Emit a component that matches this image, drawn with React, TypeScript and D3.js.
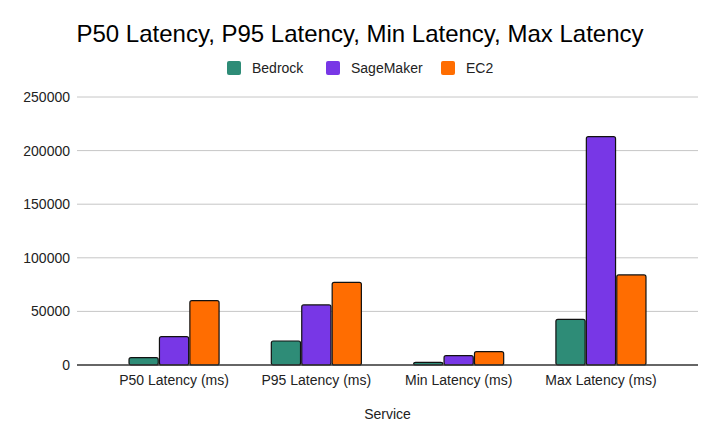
import React from "react";
import * as d3 from "d3";

const categories = ["P50 Latency (ms)", "P95 Latency (ms)", "Min Latency (ms)", "Max Latency (ms)"];
const seriesNames = ["Bedrock", "SageMaker", "EC2"];
const seriesColors = ["#2e8c77", "#7837e6", "#ff6d01"];
const bedrock = [6800, 22400, 2500, 42600];
const sagemaker = [26400, 56000, 8700, 213000];
const ec2 = [60000, 77100, 12400, 84000];
const yTicks = [0, 50000, 100000, 150000, 200000, 250000];

const seriesValues = [bedrock, sagemaker, ec2];

const width = 720;
const height = 445;
const margin = { top: 97, right: 22, bottom: 80, left: 77 };
const font = "'Liberation Sans', Arial, sans-serif";

export default function App() {
  const innerWidth = width - margin.left - margin.right;
  const innerHeight = height - margin.top - margin.bottom;

  const x0 = d3.scaleBand<string>()
    .domain(categories)
    .range([0, innerWidth])
    .paddingInner(0.35)
    .paddingOuter(0.357);

  const x1 = d3.scaleBand<string>()
    .domain(seriesNames)
    .range([0, x0.bandwidth()])
    .padding(0.04);

  const y = d3.scaleLinear()
    .domain([0, 250000])
    .range([innerHeight, 0]);

  // legend layout
  const legendX = [227, 326, 441];

  return (
    <svg
      width={width}
      height={height}
      style={{ position: "absolute", left: 0, top: 0, background: "#fff", fontFamily: font }}
    >
      <text x={360} y={42} textAnchor="middle" fontSize={24} fill="#000">
        P50 Latency, P95 Latency, Min Latency, Max Latency
      </text>

      {seriesNames.map((name, i) => (
        <g key={name} transform={`translate(${legendX[i]},61)`}>
          <rect width={14} height={14} rx={2} fill={seriesColors[i]} />
          <text x={25} y={12} fontSize={14} fill="#222">{name}</text>
        </g>
      ))}

      <g transform={`translate(${margin.left},${margin.top})`}>
        {yTicks.map((t) => (
          <g key={t}>
            {t !== 0 && (
              <line x1={0} x2={innerWidth} y1={y(t)} y2={y(t)} stroke="#c6c6c6" strokeWidth={1} />
            )}
            <text x={-7} y={y(t) + 5} textAnchor="end" fontSize={14} fill="#222">{t}</text>
          </g>
        ))}

        {categories.map((c, ci) => (
          <g key={c} transform={`translate(${x0(c)},0)`}>
            {seriesNames.map((s, si) => {
              const v = seriesValues[si][ci];
              return (
                <rect
                  key={s}
                  x={x1(s)}
                  y={y(v)}
                  width={x1.bandwidth()}
                  height={innerHeight - y(v)}
                  rx={2}
                  fill={seriesColors[si]}
                  stroke="#111"
                  strokeWidth={1.2}
                />
              );
            })}
          </g>
        ))}

        <line x1={0} x2={innerWidth} y1={innerHeight} y2={innerHeight} stroke="#333" strokeWidth={1.5} />

        {categories.map((c) => (
          <text
            key={c}
            x={(x0(c) ?? 0) + x0.bandwidth() / 2}
            y={innerHeight + 20}
            textAnchor="middle"
            fontSize={14}
            fill="#222"
          >
            {c}
          </text>
        ))}

        <text x={innerWidth / 2} y={innerHeight + 54} textAnchor="middle" fontSize={14} fill="#222">
          Service
        </text>
      </g>
    </svg>
  );
}
